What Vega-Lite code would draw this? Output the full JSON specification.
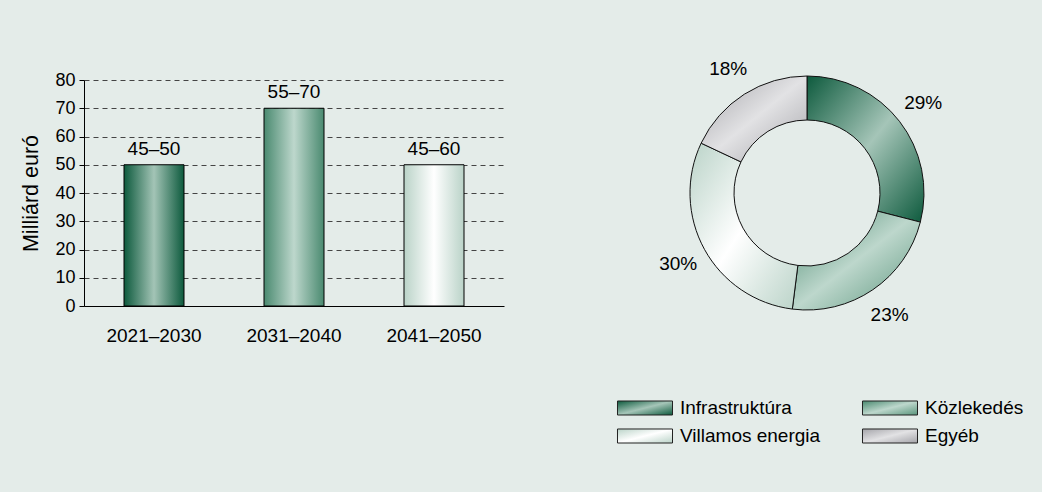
{
  "$schema": "https://vega.github.io/schema/vega-lite/v6.json",
  "background": "#e4ece9",
  "padding": {"left": 20, "top": 59, "right": 26, "bottom": 47},
  "config": {"view": {"stroke": null}, "font": "Liberation Sans"},
  "spacing": 93,
  "hconcat": [
    {
      "width": 420,
      "height": 226,
      "data": {"values": [
        {"period": "2021–2030", "value": 50, "label": "45–50"},
        {"period": "2031–2040", "value": 70, "label": "55–70"},
        {"period": "2041–2050", "value": 50, "label": "45–60"}
      ]},
      "encoding": {
        "x": {"field": "period", "type": "nominal", "sort": null,
          "scale": {"domain": ["2021–2030", "2031–2040", "2041–2050"], "paddingInner": 0, "paddingOuter": 0},
          "axis": {"title": null, "labelAngle": 0, "ticks": false, "domainColor": "#000", "labelFontSize": 19, "labelColor": "#000", "labelPadding": 20, "grid": false}},
        "y": {"field": "value", "type": "quantitative", "scale": {"domain": [0, 80]},
          "axis": {"title": "Milliárd euró", "values": [0, 10, 20, 30, 40, 50, 60, 70, 80], "titleFontSize": 21.5, "titleFontWeight": "normal", "titleColor": "#000", "titlePadding": 12, "labelFontSize": 18, "labelColor": "#000", "labelPadding": 4, "tickSize": 5, "tickColor": "#000", "domainColor": "#000", "gridColor": "#444", "gridDash": [5, 4], "gridWidth": 1, "gridOpacity": 1}}
      },
      "layer": [
        {"transform": [{"filter": {"field": "period", "equal": "2021–2030"}}],
          "mark": {"type": "bar", "width": 60, "stroke": "#000", "strokeWidth": 1,
            "color": {"gradient": "linear", "x1": 0, "y1": 0, "x2": 1, "y2": 0, "stops": [{"offset": 0, "color": "#0d5a3d"}, {"offset": 0.5, "color": "#a3c4b6"}, {"offset": 1, "color": "#0d5a3d"}]}}},
        {"transform": [{"filter": {"field": "period", "equal": "2031–2040"}}],
          "mark": {"type": "bar", "width": 60, "stroke": "#000", "strokeWidth": 1,
            "color": {"gradient": "linear", "x1": 0, "y1": 0, "x2": 1, "y2": 0, "stops": [{"offset": 0, "color": "#4a8a70"}, {"offset": 0.5, "color": "#bdd7cc"}, {"offset": 1, "color": "#4a8a70"}]}}},
        {"transform": [{"filter": {"field": "period", "equal": "2041–2050"}}],
          "mark": {"type": "bar", "width": 60, "stroke": "#000", "strokeWidth": 1,
            "color": {"gradient": "linear", "x1": 0, "y1": 0, "x2": 1, "y2": 0, "stops": [{"offset": 0, "color": "#bad3c8"}, {"offset": 0.5, "color": "#ffffff"}, {"offset": 1, "color": "#bad3c8"}]}}},
        {"mark": {"type": "text", "baseline": "bottom", "dy": -6, "fontSize": 19, "color": "#000"},
          "encoding": {"text": {"field": "label"}}}
      ]
    },
    {
      "width": 420,
      "height": 226,
      "data": {"values": [
        {"cat": "Infrastruktúra", "value": 29, "label": "29%", "order": 1},
        {"cat": "Közlekedés", "value": 23, "label": "23%", "order": 2},
        {"cat": "Villamos energia", "value": 30, "label": "30%", "order": 3},
        {"cat": "Egyéb", "value": 18, "label": "18%", "order": 4}
      ]},
      "encoding": {
        "theta": {"field": "value", "type": "quantitative", "stack": true, "scale": {"domain": [0, 100]}},
        "order": {"field": "order", "type": "quantitative"}
      },
      "layer": [
        {"mark": {"type": "arc", "outerRadius": 117, "innerRadius": 73, "stroke": "#111", "strokeWidth": 1},
          "encoding": {
            "color": {"field": "cat", "type": "nominal",
              "scale": {"domain": ["Infrastruktúra", "Közlekedés", "Villamos energia", "Egyéb"],
                "range": [
                  {"expr": "{gradient:'linear',x1:0,y1:0,x2:1,y2:1,stops:[{offset:0,color:'#0d5a3d'},{offset:0.5,color:'#a5c5b8'},{offset:1,color:'#0d5a3d'}]}"},
                  {"expr": "{gradient:'linear',x1:0,y1:0,x2:1,y2:1,stops:[{offset:0,color:'#4a8a70'},{offset:0.5,color:'#bdd7cc'},{offset:1,color:'#5a957c'}]}"},
                  {"expr": "{gradient:'linear',x1:0,y1:0,x2:1,y2:1,stops:[{offset:0,color:'#bad3c8'},{offset:0.5,color:'#ffffff'},{offset:1,color:'#bad3c8'}]}"},
                  {"expr": "{gradient:'linear',x1:0,y1:0,x2:1,y2:1,stops:[{offset:0,color:'#a4a4a9'},{offset:0.5,color:'#e2e2e4'},{offset:1,color:'#a4a4a9'}]}"}
                ]},
              "legend": {"orient": "none", "legendX": 533, "legendY": 318, "columns": 2, "direction": "horizontal", "title": null,
                "symbolType": "M-2.895,-0.737L2.895,-0.737L2.895,0.737L-2.895,0.737Z", "symbolSize": 361, "symbolOffset": 18,
                "symbolStrokeColor": "#222", "symbolStrokeWidth": 1, "symbolOpacity": 1,
                "labelFontSize": 19, "labelColor": "#000", "labelOffset": 25, "columnPadding": 39, "rowPadding": 8, "labelLimit": 300}}
          }},
        {"mark": {"type": "text", "radius": 147, "fontSize": 19, "color": "#000"},
          "encoding": {"text": {"field": "label"}}}
      ]
    }
  ]
}
